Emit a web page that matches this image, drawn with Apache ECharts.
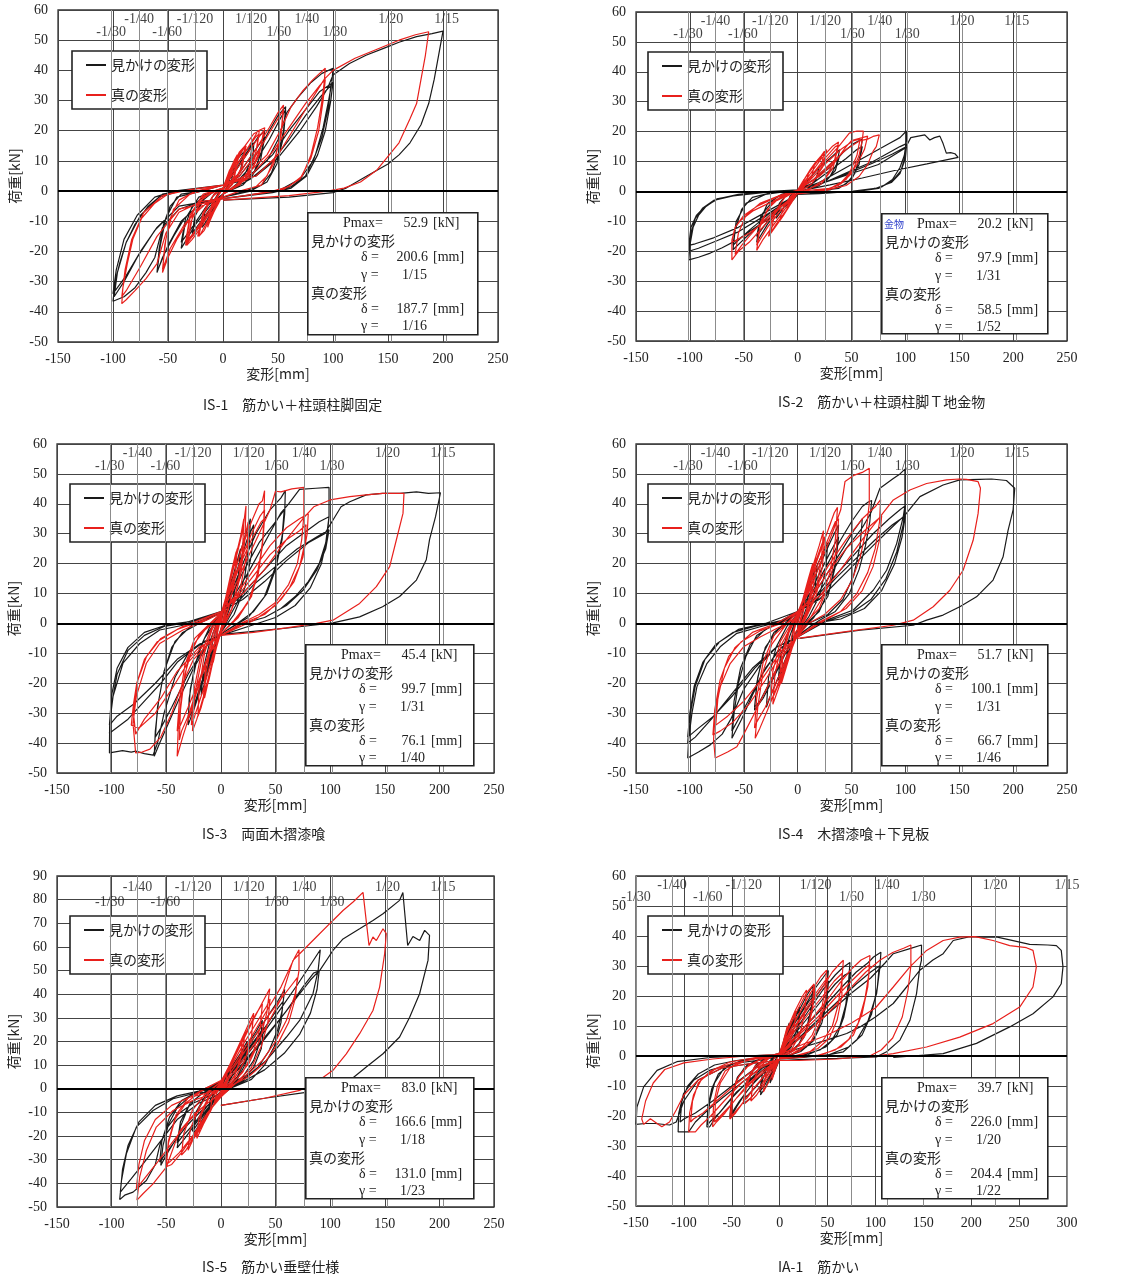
<!DOCTYPE html>
<html><head><meta charset="utf-8">
<script src="https://cdn.jsdelivr.net/npm/echarts@6/dist/echarts.min.js"></script>
<style>html,body{margin:0;padding:0;background:#fff}#c{width:1126px;height:1277px}</style>
</head><body><div id="c"></div><script>
// ---------------- data ----------------
const seriesNames = ['見かけの変形', '真の変形'];
const driftLabels = ['-1/30','-1/40','-1/60','-1/120','1/120','1/60','1/40','1/30','1/20','1/15'];
const driftRow = [1,0,1,0,0,1,0,1,0,0];
const driftIS = [-101.7,-76.25,-50.8,-25.4,25.4,50.8,76.25,101.7,152.5,203.3];
const driftIA = [-150,-112.5,-75,-37.5,37.5,75,112.5,150,225,300];
const captions = ['IS-1　筋かい＋柱頭柱脚固定','IS-2　筋かい＋柱頭柱脚Ｔ地金物','IS-3　両面木摺漆喰','IS-4　木摺漆喰＋下見板','IS-5　筋かい垂壁仕様','IA-1　筋かい'];
const infoPmax = ['52.9','20.2','45.4','51.7','83.0','39.7'];
const infoDeltaA = ['200.6','97.9','99.7','100.1','166.6','226.0'];
const infoGammaA = ['1/15','1/31','1/31','1/31','1/18','1/20'];
const infoDeltaT = ['187.7','58.5','76.1','66.7','131.0','204.4'];
const infoGammaT = ['1/16','1/52','1/40','1/46','1/23','1/22'];

const is1Black = [[0,0],[4,4],[7,6],[5,2],[0,-1],[-4,-3],[-7,-5],[-5,-1],[0,1],
[5,5],[10,8],[8,4],[3,1],[0,-1],[-5,-4],[-10,-7],[-8,-3],[-3,0],[0,1],
[8,7],[14,11],[19,13],[16,7],[10,3],[0,-1],[-8,-5],[-15,-10],[-19,-12],[-16,-6],[-8,-1],[0,1],
[10,7],[20,13],[27,16],[24,9],[18,4],[8,1],[0,-1],[-10,-5],[-20,-11],[-28,-15],[-25,-8],[-18,-3],[-8,0],[0,1],
[10,6],[20,12],[28,16],[27,10],[20,4],[8,1],[0,-1],[-12,-6],[-22,-11],[-28,-14],[-25,-7],[-15,-1],[0,1],
[12,7],[25,14],[32,18],[38,20],[35,13],[28,6],[18,2],[5,0],[0,-1],[-12,-5],[-25,-11],[-33,-16],[-38,-19],[-35,-12],[-28,-5],[-15,-1],[0,1],
[15,6],[30,14],[38,18],[34,10],[25,4],[10,1],[0,-1],[-15,-5],[-30,-13],[-38,-17],[-34,-9],[-22,-2],[0,1],
[15,5],[30,12],[42,20],[50,25],[57,28],[55,20],[50,12],[44,6],[35,2],[20,0],[0,-2],[-20,-4],[-35,-9],[-45,-15],[-55,-22],[-60,-27],[-58,-19],[-54,-11],[-48,-5],[-38,-1],[-20,0],[0,2],
[15,4],[30,10],[42,17],[52,24],[57,27],[55,18],[49,9],[40,3],[25,0],[0,-2],[-20,-4],[-38,-10],[-50,-18],[-58,-25],[-60,-27],[-57,-18],[-52,-9],[-42,-2],[-20,0],[0,2],
[20,4],[40,10],[50,17],[58,26],[68,31],[80,36],[90,39],[100,40.7],[99,36],[96,30],[91,21],[84,12],[75,5],[62,1.5],[47,0],[20,-1.5],[0,-2.5],[-20,-3.5],[-40,-6],[-55,-12],[-62,-22],[-70,-27],[-80,-32],[-90,-35],[-100,-36.5],[-98,-30],[-94,-24],[-88,-17],[-80,-11],[-68,-5],[-55,-1],[-40,0],[-20,1],[0,2],
[25,5],[45,12],[60,20],[75,27],[88,33],[100,36],[98,30],[93,20],[86,12],[76,5],[62,1],[45,-0.5],[0,-2.5],[-40,-5],[-60,-12],[-75,-20],[-88,-28],[-100,-34],[-97,-26],[-90,-16],[-78,-8],[-62,-2],[-45,0],[0,2],
[25,4],[45,10],[60,17],[75,25],[88,31],[98,35],[96,28],[90,18],[82,10],[70,4],[50,0],[0,-2.5],[-40,-5],[-62,-13],[-78,-22],[-90,-30],[-99,-35],[-96,-27],[-88,-17],[-75,-8],[-58,-2],[-40,0],[0,2],
[30,5],[50,11],[70,20],[85,28],[95,34],[100,38.5],[115,42.3],[130,45],[146,47.3],[160,49.3],[176,51.2],[190,52.2],[200,53],[196,45],[192,37],[187,29],[180,22],[170,16],[160,12],[150,9],[130,4.8],[112,1],[100,-0.5],[60,-2],[0,-3]];

const is1Red = [[0,0],[3,4],[6,7],[4,2],[0,-1],[-4,-4],[-7,-6],[-4,-1],[0,1],
[4,5],[7,7],[5,3],[0,-1],[-4,-4],[-7,-6],[-5,-2],[0,1],
[5,6],[10,10],[13,12],[10,5],[4,1],[0,-1],[-6,-5],[-12,-10],[-14,-12],[-10,-5],[-4,-1],[0,1],
[6,6],[12,11],[14,11],[10,4],[0,-1],[-7,-6],[-14,-11],[-10,-4],[0,1],
[7,7],[15,13],[20,15],[17,8],[10,3],[0,-1],[-8,-6],[-17,-13],[-22,-15],[-18,-8],[-10,-2],[0,1],
[8,7],[16,13],[21,15],[17,7],[8,2],[0,-1],[-10,-7],[-20,-14],[-23,-15],[-18,-7],[-8,-1],[0,1],
[10,8],[20,15],[28,19],[33,20],[30,13],[22,6],[12,2],[0,-1],[-10,-6],[-20,-12],[-28,-16],[-33,-18],[-29,-10],[-20,-3],[-8,0],[0,1],
[10,7],[22,14],[30,18],[33,19],[29,11],[20,4],[8,1],[0,-1],[-12,-7],[-24,-13],[-32,-17],[-28,-9],[-18,-2],[0,1],
[10,7],[22,14],[32,20],[38,21],[34,14],[26,7],[15,2],[0,-1],[-12,-6],[-25,-13],[-32,-17],[-34,-18],[-30,-9],[-20,-2],[0,1],
[12,7],[25,14],[35,19],[37,20],[33,12],[22,4],[8,1],[0,-1],[-14,-7],[-27,-14],[-34,-17],[-30,-8],[-18,-1],[0,1],
[15,6],[30,14],[42,21],[50,26],[55,28.5],[53,20],[48,12],[40,5],[30,1.5],[15,0],[0,-2],[-15,-4],[-30,-9],[-42,-16],[-50,-22],[-55,-27],[-53,-18],[-48,-9],[-40,-3],[-25,0],[0,2],
[15,5],[30,12],[45,21],[55,27],[53,19],[46,9],[35,2],[15,0],[0,-2],[-20,-5],[-35,-11],[-48,-19],[-55,-26],[-52,-16],[-45,-6],[-30,-1],[0,2],
[20,5],[40,12],[52,20],[62,28],[72,33],[82,37],[93,40.7],[92,36],[90,30],[86,21],[80,12],[72,5],[60,1.5],[45,0],[20,-1.5],[0,-2.5],[-20,-3.5],[-40,-7],[-52,-14],[-60,-24],[-70,-29],[-80,-33],[-88,-36],[-92,-37.3],[-91,-32],[-87,-24],[-82,-16],[-74,-9],[-62,-4],[-50,-1],[-30,0.5],[0,2],
[25,5],[45,13],[60,21],[75,29],[88,35],[93,37],[91,30],[87,20],[80,11],[70,4],[55,0.5],[30,-1],[0,-2.5],[-40,-6],[-60,-15],[-75,-25],[-88,-33],[-92,-35],[-89,-26],[-83,-16],[-72,-7],[-55,-1.5],[-30,0.5],[0,2],
[30,5],[50,12],[65,21],[80,30],[92,37],[100,40],[120,44],[140,47],[160,50],[175,51.8],[187,52.8],[184,45],[180,37],[176,29],[170,24],[160,16],[150,11.5],[140,7],[125,3],[110,1],[95,0],[60,-1.5],[0,-3]];

const is2Black = [[0,0],[5,2.5],[10,4],[7,1.5],[0,-0.5],[-5,-2.5],[-10,-4.5],[-7,-1.5],[0,0.5],
[10,4],[20,8],[17,4],[10,1],[0,-0.5],[-10,-4],[-20,-9],[-17,-4],[-10,-1],[0,0.5],
[10,4],[20,8],[30,11],[39,14],[36,9],[30,5],[20,2],[0,-0.5],[-15,-5],[-28,-11],[-38,-17],[-35,-10],[-28,-4],[-15,-1],[0,0.5],
[15,4],[30,9],[39,12],[35,7],[25,3],[0,-0.5],[-20,-6],[-38,-15],[-34,-8],[-20,-2],[0,0.5],
[15,4],[30,8],[42,13],[52,16],[60,17.5],[58,12],[53,6],[45,2.5],[30,0.5],[0,-0.5],[-20,-6],[-38,-12],[-50,-16],[-60,-19.5],[-58,-13],[-52,-6],[-42,-2],[-25,-0.5],[0,0.5],
[15,3],[30,7],[45,11],[55,14],[60,15],[57,9],[50,4],[38,1],[0,-0.5],[-25,-7],[-45,-13],[-60,-18],[-57,-10],[-48,-4],[-30,-1],[0,0.5],
[20,3],[40,7],[60,11],[75,14],[85,16],[95,18],[101,20.2],[101,17],[99,12],[95,8],[88,4],[78,1.5],[65,0.5],[50,0],[20,-0.7],[0,-1],[-4,-2.8],[-15,-6],[-28.6,-9.5],[-45,-13.5],[-56,-16.2],[-70,-18.8],[-81,-20.6],[-92,-22],[-101,-22.9],[-100,-18],[-97,-12],[-92,-8],[-85,-5],[-75,-2.5],[-60,-1.5],[-35,-0.4],[0,0.5],
[25,3],[50,7],[70,10],[85,13],[95,15],[101,16],[100,12],[96,7],[88,3.5],[75,1],[55,0],[0,-1],[-30,-8],[-55,-13.5],[-75,-16.5],[-92,-19],[-101,-20],[-99,-14],[-95,-9],[-88,-5.5],[-78,-3],[-60,-1.5],[-30,-0.3],[0,0.5],
[25,3],[50,6.5],[70,9.5],[88,12.5],[101,15],[100,11],[95,6],[87,3],[72,1],[50,0],[0,-1],[-30,-7],[-55,-12],[-78,-15.5],[-95,-17.5],[-101,-18],[-99,-12],[-94,-8],[-86,-5],[-74,-2.5],[-55,-1],[-25,0],[0,0.5],
[25,3],[50,6],[75,9],[100,14.5],[105,18],[112,18.5],[118,18.9],[122.7,17.2],[127,18],[132,18.5],[135,16],[138,12.8],[142,13],[146,12.6],[149,11.4],[120,9.2],[90,7],[60,4.5],[30,2.2],[0,0]];

const is2Red = [[0,0],[3,2],[6,4],[4,1.5],[0,-0.5],[-3,-2],[-6,-4],[-4,-1.5],[0,0.5],
[5,3.5],[10,6],[8,3],[3,1],[0,-0.5],[-5,-3],[-10,-6],[-8,-3],[-3,-0.5],[0,0.5],
[6,4],[12,7.5],[16,9.5],[13,5],[6,1.5],[0,-0.5],[-7,-4.5],[-14,-8.5],[-17,-10],[-13,-5],[-6,-1.5],[0,0.5],
[8,5],[16,9.5],[22,12],[25,13.5],[21,7],[13,2.5],[0,-0.5],[-8,-5],[-17,-10],[-25,-14],[-21,-7],[-12,-2],[0,0.5],
[8,5],[16,9],[24,12.5],[27,14],[23,8],[13,2.5],[0,-0.5],[-10,-6],[-20,-11],[-27,-15],[-23,-8],[-12,-2],[0,0.5],
[10,5],[22,11],[32,15],[38,16.5],[34,10],[25,4],[12,1],[0,-0.5],[-10,-5],[-22,-11],[-32,-16],[-38,-19.7],[-35,-12],[-28,-6],[-15,-1.5],[0,0.5],
[12,5],[25,11],[35,15],[38,15.5],[33,8],[22,2.5],[0,-0.5],[-15,-6],[-28,-12],[-38,-18],[-34,-10],[-22,-3],[0,0.5],
[12,5],[25,10],[38,15],[48,19.5],[55,20.2],[61,20.2],[60,17.2],[57,12],[50,6],[40,2.5],[25,0.5],[0,-0.8],[-15,-5],[-30,-11],[-45,-17],[-55,-20],[-61,-22.9],[-61,-16.3],[-58,-12],[-53,-9.7],[-41,-6.4],[-30,-4.5],[-19,-3],[-5,-0.5],[0,0.5],
[12,4],[25,9],[40,14],[52,17],[58,17.5],[55,12],[48,6],[38,2],[20,0],[0,-0.8],[-15,-5],[-30,-10],[-45,-14],[-55,-16],[-61,-17],[-58,-12],[-50,-8],[-38,-5],[-20,-2],[0,0.5],
[15,4],[30,9],[45,14],[58,17],[65,17.5],[70,18.4],[72,18.6],[75.8,18.9],[73,15],[70,13.4],[65,9],[57,5],[45,2],[25,0.3],[0,-0.8],[-20,-6],[-35,-11],[-45,-15],[-52,-18],[-58,-21],[-55,-14],[-48,-8],[-35,-4],[-18,-1.5],[0,0.5],
[20,5],[35,10],[45,15],[50,17],[55,17.5],[60,18],[65,18.5],[62,14],[55,9],[45,4],[30,1],[0,0]];

const is3Black = [[0,0],[3,5],[6,9],[4,3],[0,-2],[-3,-5],[-6,-9],[-4,-3],[0,2],
[4,7],[10,15],[8,8],[4,2],[0,-3],[-4,-7],[-10,-14],[-8,-7],[-4,-1],[0,3],
[5,8],[12,17],[18,25],[16,16],[10,7],[4,1],[0,-3],[-5,-8],[-12,-16],[-18,-24],[-16,-15],[-10,-6],[-4,0],[0,3],
[5,8],[14,19],[22,29],[27,35],[26,26],[22,16],[15,7],[6,1],[0,-3],[-6,-8],[-15,-18],[-24,-28],[-30,-34],[-29,-25],[-24,-14],[-15,-5],[-6,0],[0,3],
[6,8],[15,18],[24,28],[30,33],[28,23],[22,12],[12,3],[0,-3],[-8,-9],[-18,-20],[-26,-29],[-30,-32],[-28,-22],[-20,-9],[-10,-1],[0,3],
[8,9],[20,20],[32,30],[45,38],[55,42],[59,44.4],[58.4,36.6],[56,28],[50,18],[42,10],[30,4],[15,0],[0,-3.5],[-12,-7],[-25,-15],[-38,-25],[-50,-35],[-56,-40],[-61,-44.4],[-60,-36],[-57,-26],[-52,-16],[-45,-8],[-35,-3],[-20,0],[0,3.5],
[8,8],[20,17],[35,27],[50,34],[58,38],[56,29],[50,19],[40,9],[25,2],[0,-3.5],[-15,-8],[-30,-17],[-45,-28],[-55,-35],[-60,-38],[-58,-28],[-52,-16],[-42,-6],[-25,0],[0,3.5],
[10,8],[25,17],[40,27],[55,37],[62,40],[72,44.8],[87,45.2],[99,45.5],[99,35.7],[96,27],[90,20],[80,14],[68,9],[55,5],[40,2],[20,0],[0,-4],[-15,-6],[-30,-10],[-42,-18],[-52,-30],[-58,-40],[-62,-44],[-70,-43.5],[-78,-42.7],[-82,-43],[-90,-42.5],[-102,-43.3],[-101.8,-33.3],[-98.7,-24.4],[-89.6,-13.3],[-74.3,-6.7],[-56,-2.2],[-34.7,-0.6],[-13.3,2.2],[0,4],
[15,8],[30,14],[45,20],[60,26],[75,30],[90,34],[99,35.7],[97,28],[92,20],[82,12],[68,6],[50,2],[25,-1],[0,-4],[-20,-7],[-40,-13],[-55,-20],[-70,-26],[-85,-32],[-102,-36.7],[-100,-27],[-95,-17],[-85,-9],[-70,-4],[-52,-1],[-35,0],[0,4],
[15,7],[30,13],[50,19],[70,25],[88,29],[99,31.3],[96,25],[88,18],[75,11],[60,6],[40,2],[20,0],[0,-4],[-20,-7],[-40,-12],[-60,-20],[-80,-27],[-95,-31],[-102,-34],[-100,-24],[-95,-15],[-85,-8],[-70,-3],[-50,-0.5],[-30,0.5],[0,4],
[20,8],[40,14],[60,21],[80,27],[95,30],[100,33],[110,39],[118,40.7],[133,43],[148,43.5],[164,43.5],[179,44],[190,43.5],[201,43.7],[196.5,35.7],[191,28],[188,21.3],[179,14.5],[163.6,9],[148,5.6],[127,2.2],[102.6,0.2],[72,-1.1],[41.6,-2.2],[11,-3.3],[-1,-3.9]];

const is3Red = [[0,0],[2,4],[4,8],[3,3],[0,-2],[-2,-4],[-4,-8],[-3,-3],[0,2],
[3,6],[7,13],[6,7],[3,2],[0,-3],[-3,-6],[-7,-13],[-6,-7],[-3,-1],[0,3],
[4,8],[10,18],[14,24],[13,16],[9,8],[4,2],[0,-3],[-4,-8],[-10,-17],[-15,-25],[-14,-17],[-9,-8],[-4,-1],[0,3],
[4,8],[11,19],[15,25],[13,15],[7,5],[0,-3],[-5,-9],[-11,-19],[-16,-25],[-14,-14],[-7,-3],[0,3],
[5,9],[12,20],[18,29],[21,35],[20,25],[16,14],[10,5],[4,1],[0,-3],[-5,-9],[-12,-20],[-18,-28],[-21,-31],[-20,-22],[-15,-10],[-8,-2],[0,3],
[6,10],[14,22],[20,31],[23,39.3],[22,28],[18,16],[10,5],[0,-3],[-6,-10],[-14,-22],[-22,-32],[-26,-36],[-24,-24],[-17,-11],[-8,-2],[0,3],
[6,9],[15,20],[22,29],[25,34],[24,24],[18,12],[8,3],[0,-3],[-7,-10],[-16,-22],[-24,-31],[-27,-34],[-25,-23],[-18,-10],[-8,-1],[0,3],
[8,11],[18,24],[28,34],[35,40],[38,41],[40,44.4],[39.5,36],[38,26],[34,16],[26,8],[15,2],[0,-3.5],[-8,-8],[-18,-18],[-28,-30],[-35,-38],[-40,-44.4],[-39,-35],[-36,-24],[-30,-12],[-20,-4],[-8,0],[0,3.5],
[8,10],[18,21],[28,30],[36,36],[40,38],[39,30],[35,19],[28,9],[16,2],[0,-3.5],[-10,-10],[-20,-20],[-30,-31],[-36,-36],[-38,-39],[-37,-29],[-33,-17],[-25,-7],[-12,-1],[0,3.5],
[8,10],[18,20],[28,28],[37,34],[40,35],[38,26],[33,16],[25,7],[12,1],[0,-3.5],[-10,-9],[-20,-19],[-30,-28],[-37,-34],[-40,-36],[-38,-26],[-33,-14],[-24,-5],[-10,0],[0,3.5],
[10,10],[22,20],[35,30],[45,38],[50,44.2],[55,44],[65,45],[76,45.5],[76,36.3],[74,28],[70,20],[62,13],[50,7],[35,3],[18,0],[0,-4],[-12,-7],[-25,-12],[-35,-20],[-45,-30],[-55,-38],[-65,-42],[-72,-43],[-78,-43.3],[-80.4,-33.4],[-77.4,-24.4],[-68.2,-13.3],[-56,-6.7],[-34.7,-2.2],[-13.3,1.1],[0,3.5],
[15,10],[30,18],[45,26],[60,32],[72,35],[80,36.7],[79,30],[75,22],[67,14],[55,8],[40,3],[20,0],[0,-4],[-15,-7],[-30,-13],[-45,-22],[-60,-30],[-75,-35],[-82,-34],[-80,-27],[-77,-20],[-70,-12],[-58,-6],[-40,-2],[-20,0.5],[0,4],
[15,9],[30,16],[45,23],[60,28],[72,31],[78,33],[77,27],[72,19],[63,12],[50,6],[30,1],[0,-4],[-20,-8],[-40,-16],[-55,-25],[-70,-32],[-78,-37],[-80,-30],[-76,-19],[-68,-11],[-55,-5],[-35,-1],[0,4],
[20,10],[40,18],[60,28],[75,35],[85,39],[100,41.3],[118,42.4],[133,43],[148,43.5],[160,43.5],[167.6,43.5],[166.7,36.8],[160.6,27.9],[154.5,19],[142.3,12.3],[127,6.7],[102.6,1.1],[87.4,0],[60,-1.5],[30,-3],[0,-4]];

const is4Black = [[0,0],[3,4],[6,7],[4,2],[0,-2],[-3,-4],[-6,-7],[-4,-2],[0,2],
[5,7],[10,11],[8,5],[4,1],[0,-3],[-5,-7],[-10,-11],[-8,-5],[-4,-1],[0,3],
[5,7],[12,14],[18,19],[16,11],[10,4],[0,-3],[-6,-8],[-12,-14],[-18,-19],[-16,-11],[-9,-3],[0,3],
[6,8],[15,17],[24,24],[28,27],[26,18],[20,9],[10,2],[0,-3],[-8,-9],[-18,-18],[-26,-25],[-29,-28],[-27,-18],[-20,-8],[-10,-1],[0,3],
[8,9],[20,19],[30,27],[38,33],[36,22],[30,12],[20,4],[8,0],[0,-3.5],[-10,-9],[-22,-18],[-32,-25],[-40,-29],[-38,-20],[-32,-10],[-22,-3],[-10,0.5],[0,3.5],
[10,9],[22,18],[32,25],[38,29],[35,19],[28,9],[15,2],[0,-3.5],[-12,-10],[-25,-19],[-35,-26],[-40,-28],[-37,-18],[-30,-8],[-18,-2],[0,3.5],
[10,8],[25,18],[40,28],[50,34],[60,39.1],[65.6,40.6],[68.7,41.1],[67,34],[63,26],[57,18],[48,10],[35,4],[20,1],[0,-4],[-15,-8],[-30,-15],[-42,-24],[-52,-32],[-61,-38.4],[-59,-30],[-55,-20],[-48,-11],[-38,-4],[-25,-1],[-10,1],[0,4],
[12,8],[28,17],[42,25],[52,31],[60,35],[58,26],[52,16],[42,8],[28,3],[10,0],[0,-4],[-18,-9],[-33,-17],[-46,-26],[-55,-32],[-61,-36],[-59,-26],[-53,-15],[-44,-7],[-30,-2],[-12,1],[0,4],
[15,8],[30,16],[45,25],[60,32],[68,37],[76.4,45.2],[88.8,48.5],[95,50],[99.6,51.6],[99.6,39.4],[98,35.6],[91.9,26.7],[82.6,17.8],[70.2,11.1],[51.7,4.5],[27,1.1],[0,-4.5],[-20,-8],[-35,-14],[-50,-22],[-62,-32],[-70,-37],[-81.1,-40.6],[-92,-43],[-102,-45],[-101.2,-38.9],[-98.1,-30],[-93.5,-21.2],[-84.2,-13.4],[-71.9,-7.8],[-56.4,-3.3],[-34.8,-1.1],[-16.3,0.6],[0.7,3.9],
[15,8],[35,16],[55,24],[70,30],[85,35],[95,38],[100,39.4],[98,33],[92,24],[82,15],[68,8],[50,3.5],[25,0.5],[0,-4.5],[-20,-8],[-40,-15],[-60,-24],[-78,-31],[-92,-35],[-102,-38],[-100,-30],[-96,-21],[-88,-13],[-76,-7],[-60,-3],[-40,-1],[-15,1],[0,4],
[15,7],[35,15],[55,22],[72,28],[88,33],[100,36],[97,29],[90,20],[78,11],[62,5],[40,1.5],[15,0],[0,-4.5],[-20,-8],[-42,-15],[-62,-24],[-80,-32],[-95,-38],[-102,-40],[-100,-31],[-95,-21],[-86,-12],[-72,-6],[-55,-2],[-30,0],[0,4],
[20,8],[45,17],[70,26],[90,33],[99.6,36.2],[113.5,42.4],[135,46.3],[150.5,48],[169,48.2],[180,48.3],[193.8,47.8],[201.5,45.2],[200,38],[195.3,31.1],[190.7,22.3],[181.4,14.5],[166,8.9],[150.5,5.6],[135,2.8],[119.7,1.1],[107.3,-0.6],[58,-2.2],[2.3,-5]];

const is4Red = [[0,0],[2,3],[4,6],[3,2],[0,-2],[-2,-3],[-4,-6],[-3,-2],[0,2],
[3,5],[7,10],[6,5],[3,1],[0,-3],[-3,-5],[-7,-10],[-6,-5],[-3,-1],[0,3],
[4,7],[10,15],[14,20],[13,12],[8,4],[0,-3],[-4,-7],[-10,-14],[-15,-20],[-14,-12],[-8,-3],[0,3],
[5,8],[12,17],[17,22],[15,13],[9,4],[0,-3],[-5,-8],[-12,-16],[-17,-21],[-15,-11],[-8,-2],[0,3],
[5,8],[14,19],[20,26],[24,31],[22,21],[17,11],[9,3],[0,-3.5],[-6,-9],[-14,-18],[-20,-24],[-23,-27],[-21,-17],[-15,-7],[-6,-1],[0,3.5],
[6,9],[15,19],[22,26],[25,29],[23,19],[17,9],[8,2],[0,-3.5],[-7,-10],[-15,-18],[-22,-24],[-25,-26],[-23,-16],[-16,-6],[-6,0],[0,3.5],
[8,10],[18,21],[28,31],[34,37],[37,38.8],[35,28],[30,17],[22,8],[12,2],[0,-4],[-8,-10],[-18,-20],[-28,-29],[-35,-35],[-39.4,-38.4],[-37,-28],[-32,-16],[-24,-7],[-12,-1],[0,4],
[8,9],[18,19],[28,28],[35,34],[38,35],[36,25],[30,14],[20,5],[8,0.5],[0,-4],[-10,-11],[-20,-20],[-30,-28],[-38,-33],[-40,-35],[-38,-25],[-32,-13],[-22,-4],[-10,0],[0,4],
[10,10],[22,21],[32,30],[40,38],[44,47.5],[52,49.5],[60,50.5],[66.5,51.9],[66.5,40.2],[64,32],[58,22],[50,14],[40,8],[25,3],[10,0],[0,-4.5],[-12,-10],[-25,-19],[-40,-30],[-50,-37],[-56.4,-41.2],[-65,-43],[-76.5,-45],[-78,-38.9],[-76.5,-30],[-71.9,-21.2],[-62.6,-13.4],[-50.2,-7.8],[-34.8,-4.5],[-16.3,-1.1],[0.7,2.2],
[12,9],[28,19],[45,28],[60,35],[72,39],[77,41.4],[76,34],[72,25],[65,17],[55,10],[40,4],[20,0.5],[0,-4.5],[-15,-10],[-30,-19],[-45,-27],[-60,-33],[-72,-36],[-78.6,-37.3],[-77,-29],[-72,-19],[-64,-11],[-52,-6],[-35,-2.5],[-15,0],[0,4],
[12,8],[28,17],[45,25],[62,31],[75,35],[78,36],[76,28],[70,19],[60,11],[45,5],[25,1],[0,-4.5],[-15,-9],[-32,-18],[-50,-26],[-65,-31],[-76,-34],[-74,-25],[-68,-15],[-58,-8],[-42,-3],[-20,0],[0,4],
[20,9],[40,18],[60,28],[75,35],[88.8,41.3],[104.2,44.6],[119.7,46.8],[138.2,48],[150,48.3],[156.7,48.2],[167.5,47.4],[169.7,45.2],[167.5,36.8],[162.9,27.8],[153.6,17.8],[141.3,11.1],[125.8,5.6],[107.3,1.1],[88.8,-0.6],[50,-2.5],[0,-5]];

const is5Black = [[0,0],[4,4],[8,7],[6,3],[0,-1],[-4,-3],[-8,-6],[-6,-2],[0,1],
[6,6],[12,10],[10,5],[5,1],[0,-2],[-6,-5],[-12,-10],[-10,-5],[-5,-1],[0,2],
[8,8],[18,15],[24,20],[22,12],[15,5],[6,1],[0,-2],[-8,-6],[-18,-14],[-25,-19],[-23,-11],[-15,-4],[-6,0],[0,2],
[8,7],[18,14],[25,18],[23,11],[15,4],[0,-2],[-10,-7],[-20,-14],[-26,-18],[-23,-10],[-13,-2],[0,2],
[10,8],[22,17],[32,24],[38,29],[36,20],[30,12],[20,5],[8,1],[0,-2.5],[-10,-7],[-22,-14],[-33,-21],[-40,-25],[-37,-16],[-30,-8],[-18,-2],[-6,0.5],[0,2.5],
[12,8],[25,17],[35,23],[39,26],[37,17],[30,9],[18,3],[0,-2.5],[-12,-7],[-25,-15],[-35,-20],[-40,-23],[-37,-14],[-28,-6],[-14,-1],[0,2.5],
[12,9],[28,20],[42,30],[52,37],[58.4,42],[56,33],[52,25],[44,16],[34,9],[20,3.5],[5,0],[0,-3],[-15,-8],[-30,-15],[-42,-22],[-50,-28],[-55,-32.4],[-53,-24],[-48,-15],[-40,-8],[-28,-3],[-12,0],[0,3],
[12,8],[28,18],[42,27],[52,34],[57,37],[55,28],[49,18],[40,10],[28,4],[10,0.5],[0,-3],[-15,-8],[-32,-16],[-45,-24],[-53,-29],[-56,-31],[-54,-22],[-47,-12],[-36,-5],[-20,-1],[0,3],
[15,9],[35,21],[55,34],[70,44],[80,51],[91,58.8],[89,50],[84.3,40.2],[72.1,28.9],[60,21.9],[41.6,12],[26.4,6.3],[11,2.8],[0,0],[-10,-3],[-25,-6],[-40,-11],[-50,-17],[-56,-24],[-60,-32],[-68.2,-38.8],[-80.4,-43.7],[-88,-45],[-92.6,-46.9],[-91,-38.8],[-86.5,-27.5],[-77.4,-16.2],[-62.1,-9.2],[-43.8,-4.2],[-25.5,-2.1],[-1,-0.7],[0,0],
[15,8],[35,19],[55,30],[70,39],[82,46],[90,50],[88,42],[82,32],[72,23],[58,15],[40,8],[20,3],[0,-2],[-20,-6],[-40,-13],[-55,-22],[-70,-31],[-82,-38],[-92,-43.7],[-90,-34],[-85,-24],[-75,-14],[-60,-7],[-40,-3],[-20,-1],[0,0.5],
[20,10],[40,21],[60,33],[75,43],[85,49],[90.4,50],[102.6,58.5],[111.8,63.4],[127,67.7],[139.2,71.2],[148.4,74],[163.6,79.7],[166.6,83],[171,60.6],[175.8,64.4],[182,62.7],[186.5,67],[191,64.9],[189.6,54.3],[181.9,40.2],[172.8,30.3],[163.6,21.9],[148.4,14.8],[133.1,9.2],[117.9,3.5],[102.6,-0.7],[78,-1.5],[40,-4],[0,-7]];

const is5Red = [[0,0],[3,4],[6,7],[4,2],[0,-1],[-3,-3],[-6,-6],[-4,-2],[0,1],
[5,6],[10,11],[8,5],[4,1],[0,-2],[-5,-5],[-10,-10],[-8,-4],[-4,-1],[0,2],
[6,8],[14,16],[20,22],[18,13],[12,5],[5,1],[0,-2],[-6,-6],[-14,-13],[-20,-19],[-18,-11],[-11,-4],[-4,0],[0,2],
[7,9],[16,18],[22,24],[20,15],[13,6],[0,-2.5],[-8,-8],[-16,-15],[-22,-21],[-20,-12],[-12,-4],[0,2.5],
[8,10],[18,20],[26,28],[30,32],[28,22],[22,12],[12,4],[0,-3],[-8,-8],[-18,-16],[-26,-22],[-30,-26],[-28,-17],[-20,-8],[-10,-1],[0,3],
[8,10],[20,21],[30,30],[38,36],[36,26],[30,16],[20,7],[8,1],[0,-3],[-10,-9],[-22,-18],[-32,-26],[-36,-28],[-34,-19],[-26,-9],[-14,-2],[0,3],
[10,11],[22,22],[34,33],[42,40],[44.7,42.3],[42,32],[36,21],[26,11],[14,4],[0,-3.5],[-10,-9],[-24,-19],[-36,-27],[-45,-32],[-50,-33],[-48,-23],[-42,-13],[-32,-6],[-18,-1],[0,3.5],
[10,10],[22,20],[34,29],[42,35],[45,38],[43,28],[37,18],[28,9],[15,3],[0,-3.5],[-12,-10],[-26,-20],[-38,-27],[-47,-31],[-50,-32],[-48,-22],[-41,-11],[-30,-4],[-15,0],[0,3.5],
[12,10],[28,22],[42,33],[55,43],[62,50],[67,55],[71.5,58.8],[71.5,50],[68,40],[60,29],[50,20],[38,12],[24,6],[10,1],[0,-2],[-12,-6],[-25,-11],[-38,-18],[-49.9,-33.1],[-62.1,-40.2],[-71.3,-44.4],[-76.8,-47.1],[-74.3,-37.3],[-68.2,-26.1],[-59.1,-16.2],[-43.8,-9.2],[-25.5,-4.9],[-7.2,-2.1],[0,0],
[12,9],[28,20],[42,30],[55,38],[65,44],[70,47],[68,38],[62,28],[52,19],[40,11],[25,5],[8,1],[0,-2],[-15,-7],[-30,-14],[-45,-23],[-58,-31],[-70,-38],[-77.4,-42.3],[-75,-32],[-70,-22],[-60,-13],[-45,-7],[-28,-3.5],[-10,-1.5],[0,0],
[20,12],[40,25],[55,38],[66,54.3],[72.1,57.1],[87.4,64.2],[102.6,71.2],[111.8,75.4],[121,79],[130.1,83.1],[135.6,60.6],[139.2,64.2],[142.3,62.7],[148.4,67.7],[151.4,65.6],[149.9,57.1],[145.3,43],[139.2,33.1],[127,23.3],[114.8,14.8],[102.6,7.8],[87.4,2.8],[72.1,-0.7],[40,-4],[0,-7]];

const ia1Black = [[0,0],[5,6],[10,11],[8,5],[4,1],[0,-1],[-5,-5],[-10,-9],[-8,-4],[-4,-1],[0,1],
[8,8],[15,13],[21,16.3],[19,10],[14,5],[7,1.5],[0,-1],[-7,-5],[-14,-10],[-20,-13],[-18,-8],[-12,-3],[-5,-0.5],[0,1],
[8,7],[16,12],[21,14],[19,8],[12,3],[0,-1],[-8,-5],[-16,-10],[-21,-12],[-18,-6],[-10,-1.5],[0,1],
[10,9],[20,15],[28,20],[35,23.6],[33,16],[28,9],[20,4],[10,1],[0,-1],[-10,-5],[-20,-10],[-30,-14],[-37.8,-15.9],[-35,-10],[-28,-5],[-18,-1.5],[0,1],
[10,8],[22,14],[30,18],[35,20],[32,13],[25,6],[15,2],[0,-1],[-12,-5],[-24,-10],[-33,-13],[-37,-14],[-34,-8],[-25,-3],[-12,-0.5],[0,1],
[12,9],[25,16],[38,23],[45,26],[50.8,28.5],[49,21],[45,14],[38,7],[28,3],[15,1],[0,-1],[-12,-4],[-25,-8],[-37,-13],[-45,-17],[-51.7,-20.8],[-50,-14],[-45,-8],[-37,-4],[-25,-1.5],[-10,0],[0,1],
[12,8],[25,14],[38,20],[47,24],[51,25],[49,18],[44,11],[35,5],[22,1.5],[0,-1],[-15,-5],[-30,-10],[-42,-15],[-50,-19],[-52,-20],[-50,-13],[-44,-7],[-34,-3],[-20,-1],[0,1],
[15,8],[30,15],[45,22],[58,27],[66,29.5],[73.4,31.2],[72,25],[69,17],[63,10],[54,5],[42,2],[25,0.5],[0,-1],[-15,-4],[-30,-8],[-45,-12],[-58,-17],[-68,-21],[-73,-23.6],[-76,-23.6],[-75,-17],[-71,-11],[-64,-6],[-52,-3],[-35,-1.2],[-15,-0.3],[0,0.5],
[15,7],[30,13],[45,19],[58,24],[68,27],[74,28],[72,21],[67,13],[60,7],[48,3],[30,0.5],[0,-1],[-18,-4],[-35,-9],[-50,-14],[-63,-19],[-73,-22],[-75,-23],[-73,-15],[-68,-9],[-58,-4],[-40,-1.5],[-20,-0.5],[0,0.5],
[15,6],[30,11],[48,17],[65,23],[80,28],[92,31],[98,33],[105.7,34.6],[104.7,29.7],[101.2,20.8],[92.5,11.9],[80.4,5.3],[66.5,1.4],[49.1,0.3],[25,-0.3],[0,-1],[-20,-4],[-40,-9],[-60,-14],[-75,-18],[-88,-22],[-95,-25.3],[-106,-25.3],[-105.5,-19.2],[-100.3,-12.5],[-89.9,-8.1],[-72.5,-4.7],[-48.2,-2.5],[-20.4,-1.4],[-3,-0.3],[0,0],
[20,6],[40,12],[60,18],[80,24],[95,28],[104,30],[102,23],[96,14],[86,7],[72,3],[52,0.5],[25,-0.5],[0,-1],[-25,-4],[-50,-10],[-70,-15],[-88,-19],[-100,-21],[-104,-22],[-102,-15],[-96,-10],[-85,-6],[-68,-3],[-45,-1.5],[-20,-0.5],[0,0.2],
[25,7],[50,14],[75,21],[95,26],[110,31],[118.6,34.1],[136,35.8],[148.1,37],[148,31.9],[146.4,29.7],[142.9,20.8],[136,11.9],[125.6,5.3],[111.7,1.4],[101.2,-0.3],[60,-0.8],[20,-1.2],[0,-1.5],[-30,-2.5],[-60,-4],[-85,-8],[-100,-15],[-108,-22],[-115,-23],[-130,-22.5],[-140,-22.5],[-150,-22.8],[-149,-17],[-142,-10.3],[-128,-4.8],[-107.3,-1.9],[-72.5,-0.5],[-37.8,0],[0,0.5],
[25,3],[49,5.3],[70,7.5],[83.9,9.7],[100,13],[118.6,17.5],[135,24],[146.4,28.6],[160,32],[170.7,34.1],[181.2,38.5],[198.5,39.8],[210,39.6],[226,39.7],[240.2,38.7],[261,37.2],[280,37],[288.9,36.8],[294,35.2],[295.8,29.7],[294,24.1],[285.4,19.7],[264.5,14.1],[240.2,9.7],[205.5,4.2],[170.7,0.8],[118.6,-0.5]];

const ia1Red = [[0,0],[4,5],[8,10],[6,5],[3,1],[0,-1],[-4,-4],[-8,-8],[-6,-4],[-3,-1],[0,1],
[6,7],[12,12],[17,15],[15,9],[10,4],[5,1],[0,-1],[-6,-5],[-12,-9],[-17,-12],[-15,-7],[-10,-3],[-4,0],[0,1],
[8,9],[16,15],[24,20],[28,22],[26,14],[21,7],[13,2.5],[0,-1],[-8,-5],[-16,-9],[-24,-13],[-30,-15],[-28,-9],[-22,-4],[-12,-1],[0,1],
[8,8],[18,15],[28,21],[36,24],[34,16],[29,9],[20,3.5],[8,0.5],[0,-1],[-10,-5],[-20,-10],[-30,-14],[-37,-16],[-35,-10],[-28,-5],[-16,-1.5],[0,1],
[10,8],[22,15],[32,21],[37,23],[34,15],[27,7],[16,2],[0,-1],[-12,-5],[-25,-10],[-34,-14],[-38,-15],[-35,-9],[-26,-3.5],[-12,-0.5],[0,1],
[12,9],[25,17],[36,23],[43,26.5],[49,28.6],[47,21],[42,13],[34,7],[24,3],[12,0.5],[0,-1],[-12,-5],[-25,-10],[-37,-15],[-46,-19],[-52,-21],[-50,-14],[-45,-8],[-36,-4],[-22,-1.5],[0,1],
[12,8],[26,15],[38,21],[46,24.5],[50,26],[48,19],[42,11],[33,5],[20,1.5],[0,-1],[-15,-6],[-30,-12],[-42,-17],[-50,-20],[-52,-20.5],[-50,-13],[-43,-7],[-32,-3],[-16,-0.5],[0,1],
[15,9],[30,16],[45,23],[55,28],[62,30.5],[66.5,31.9],[65,25],[61,17],[55,10],[45,5],[32,1.5],[15,0],[0,-1],[-15,-5],[-30,-9],[-45,-14],[-57,-19],[-66,-22],[-70,-23.6],[-69,-16],[-65,-10],[-57,-5],[-45,-2.5],[-28,-1],[-10,0],[0,0.5],
[15,8],[30,14],[45,20],[57,25],[65,27.5],[67,28],[65,20],[60,12],[52,6],[40,2.5],[22,0.3],[0,-1],[-18,-5],[-35,-10],[-50,-16],[-62,-20],[-68,-22],[-67,-15],[-62,-9],[-52,-4],[-35,-1.5],[-15,-0.3],[0,0.5],
[15,6],[30,11],[48,18],[62,24],[75,29],[85,32],[94.3,33.5],[93,27],[89,19],[82,11],[72,5.5],[58,2],[40,0.2],[20,-0.5],[0,-1],[-20,-4],[-40,-9],[-58,-15],[-72,-20],[-82,-23],[-88,-25.3],[-95,-25.3],[-94,-19],[-90,-13],[-82,-8],[-68,-4.5],[-50,-2.5],[-25,-1],[0,0],
[20,7],[40,13],[60,20],[75,25],[88,29],[94,30.5],[92,23],[86,14],[77,7],[64,3],[45,0.5],[20,-0.5],[0,-1],[-25,-4],[-48,-10],[-66,-15],[-80,-19],[-90,-21],[-93,-22],[-91,-15],[-85,-9],[-72,-5],[-52,-2],[-25,-0.5],[0,0.2],
[25,7],[50,14],[72,22],[90,28],[105,32],[118,34.5],[130,36],[137,37],[137,30],[134,22],[128,13],[118,6],[106,2],[94,0],[60,-1],[20,-1.5],[0,-1.5],[-30,-2.5],[-60,-4],[-85,-8],[-100,-13],[-108,-18],[-115,-22],[-123,-23.6],[-128,-22.5],[-135,-20.9],[-142,-22.8],[-144,-21],[-140,-15],[-132,-9],[-120,-4.5],[-100,-2.3],[-70,-1],[-35,0],[0,0.5],
[25,4],[50,7],[75,11],[100,16],[118.6,23],[136,29.7],[153.4,35.2],[170.7,38.5],[188,39.6],[204,39.8],[222.8,38.5],[240.2,36.8],[257.6,36.1],[264.5,35.2],[268,29.7],[264.5,23],[250.6,16.3],[222.8,10.8],[188,6.3],[153.4,3],[118.6,0.8],[94.3,-0.3]];

// ---------------- layout ----------------
const gridBoxes = [[58,10,440,332],[636,12,431,329],[57,444,437,329],[636,444,431,329],[57,876,437,331],[636,876,431,330]];
const xRanges = [[-150,250],[-150,250],[-150,250],[-150,250],[-150,250],[-150,300]];
const yRanges = [[-50,60],[-50,60],[-50,60],[-50,60],[-50,90],[-50,60]];
const blackSets = [is1Black, is2Black, is3Black, is4Black, is5Black, ia1Black];
const redSets = [is1Red, is2Red, is3Red, is4Red, is5Red, ia1Red];
const driftSets = [driftIS, driftIS, driftIS, driftIS, driftIS, driftIA];
const labelOffsets = [[9,22],[9,22],[9,22],[9,22],[11,26],[9,21]];
const legendPos = [[72,51],[648,52],[70,484],[648,484],[70,916],[648,916]];
const infoBoxes = [[307,212,170,122],[881,213,166,120],[305,644,168,121],[881,644,166,121],[305,1077,168,121],[881,1077,166,121]];
const captionPos = [[203,405],[778,402],[202,834],[778,834],[202,1267],[778,1267]];

const SERIF = '"Liberation Serif","Noto Sans CJK JP",serif';
const JP = '"Noto Sans CJK JP",sans-serif';
const BLACK = '#1a1a1a', RED = '#e8201c';

const grids = [], xAxes = [], yAxes = [], series = [], legends = [], graphics = [];
for (let i = 0; i < 6; i++) {
  const [l, t, w, h] = gridBoxes[i];
  grids.push({left: l, top: t, width: w, height: h, show: true, borderColor: '#333', borderWidth: 1.3, backgroundColor: 'transparent'});
  xAxes.push({type: 'value', gridIndex: i, min: xRanges[i][0], max: xRanges[i][1], interval: 50,
    name: '変形[mm]', nameLocation: 'middle', nameGap: 24,
    nameTextStyle: {fontFamily: JP, fontSize: 14, color: '#222'},
    axisLine: {show: false, onZero: false}, axisTick: {show: false},
    axisLabel: {fontFamily: SERIF, fontSize: 14, color: '#222', margin: 10},
    splitLine: {show: true, lineStyle: {color: '#444', width: 1}}});
  yAxes.push({type: 'value', gridIndex: i, min: yRanges[i][0], max: yRanges[i][1], interval: 10,
    name: '荷重[kN]', nameLocation: 'middle', nameGap: 36,
    nameTextStyle: {fontFamily: JP, fontSize: 14, color: '#222'},
    axisLine: {show: false}, axisTick: {show: false},
    axisLabel: {fontFamily: SERIF, fontSize: 14, color: '#222', margin: 10},
    splitLine: {show: true, lineStyle: {color: '#444', width: 1}}});
  const yMax = yRanges[i][1];
  const offs = labelOffsets[i];
  series.push({type: 'scatter', xAxisIndex: i, yAxisIndex: i, z: 1, silent: true,
    symbolSize: 1, itemStyle: {color: 'rgba(0,0,0,0)'},
    data: driftSets[i].map((v, k) => ({value: [v, yMax], label: {offset: [0, offs[driftRow[k]]]}})),
    label: {show: true, position: 'inside', formatter: p => driftLabels[p.dataIndex],
      fontFamily: SERIF, fontSize: 14, color: '#111'},
    markLine: {silent: true, symbol: ['none', 'none'], label: {show: false}, animation: false,
      lineStyle: {color: '#8c8c8c', width: 1, type: 'solid'},
      data: driftSets[i].map(v => ({xAxis: v})).concat([{yAxis: 0, lineStyle: {color: '#000', width: 2, type: 'solid'}}])}});
  series.push({type: 'line', name: seriesNames[0], xAxisIndex: i, yAxisIndex: i, z: 3,
    data: blackSets[i], showSymbol: false, symbol: 'none', lineStyle: {color: BLACK, width: 1.2}, itemStyle: {color: BLACK}});
  series.push({type: 'line', name: seriesNames[1], xAxisIndex: i, yAxisIndex: i, z: 4,
    data: redSets[i], showSymbol: false, symbol: 'none', lineStyle: {color: RED, width: 1.2}, itemStyle: {color: RED}});
  legends.push({left: legendPos[i][0], top: legendPos[i][1], orient: 'vertical', data: seriesNames,
    icon: 'rect', itemWidth: 20, itemHeight: 2, itemGap: 16, padding: [7, 12, 7, 14],
    borderColor: '#222', borderWidth: 1.6, backgroundColor: '#fff', selectedMode: false,
    textStyle: {fontFamily: JP, fontSize: 14, color: '#222'}});
  const [bx, by, bw, bh] = infoBoxes[i];
  graphics.push({type: 'rect', left: bx, top: by, z: 10, shape: {width: bw, height: bh}, style: {fill: '#fff', stroke: '#222', lineWidth: 1.6}});
  const lines = [
    [['Pmax=', 36, 'left'], [infoPmax[i], 121, 'right'], ['[kN]', 126, 'left']],
    [['見かけの変形', 4, 'left']],
    [['δ =', 54, 'left'], [infoDeltaA[i], 121, 'right'], ['[mm]', 126, 'left']],
    [['γ =', 54, 'left'], [infoGammaA[i], 120, 'right']],
    [['真の変形', 4, 'left']],
    [['δ =', 54, 'left'], [infoDeltaT[i], 121, 'right'], ['[mm]', 126, 'left']],
    [['γ =', 54, 'left'], [infoGammaT[i], 120, 'right']]
  ];
  lines.forEach((ln, r) => {
    ln.forEach(([txt, dx, al]) => {
      const isJP = /[\u3040-\u9fff]/.test(txt);
      graphics.push({type: 'text', x: bx + dx, y: by + 11 + r * 17.3, z: 11,
        style: {text: txt, textAlign: al, textVerticalAlign: 'middle', fill: '#222',
          font: (isJP ? '14px ' + JP : '14px ' + SERIF)}});
    });
  });
  if (i === 1) {
    graphics.push({type: 'text', x: bx + 3, y: by + 11, z: 11,
      style: {text: '金物', textAlign: 'left', textVerticalAlign: 'middle', fill: '#3344cc', font: '10px ' + JP}});
  }
  graphics.push({type: 'text', x: captionPos[i][0], y: captionPos[i][1], z: 11,
    style: {text: captions[i], textAlign: 'left', textVerticalAlign: 'middle', fill: '#222', font: '14px ' + JP}});
}

const chart = echarts.init(document.getElementById('c'), null, {renderer: 'canvas'});
chart.setOption({
  animation: false,
  backgroundColor: '#fff',
  grid: grids, xAxis: xAxes, yAxis: yAxes, series: series, legend: legends, graphic: graphics
});
</script></body></html>
